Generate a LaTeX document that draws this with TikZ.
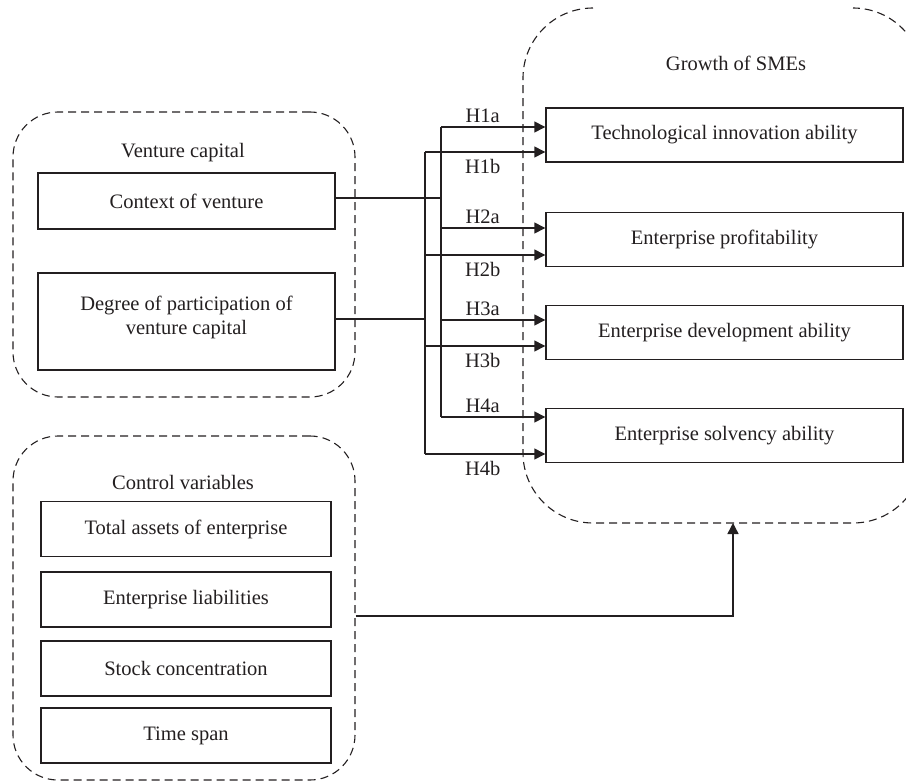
\documentclass[tikz,border=0pt]{standalone}
\usepackage{fontspec}
\setmainfont{Liberation Serif}
\usetikzlibrary{arrows.meta}
\definecolor{ink}{HTML}{231F20}
\begin{document}
\begin{tikzpicture}[x=1pt,y=-1pt,
  font=\fontsize{20.5}{24}\selectfont,
  every node/.style={text=ink},
  grp/.style={draw=ink,line width=1.1pt,dash pattern=on 8pt off 5pt},
  vbox/.style={draw=ink,line width=1.4pt,rectangle,minimum height=55pt,inner sep=2pt},
  conn/.style={draw=ink,line width=1.4pt},
  arr/.style={conn,-{Triangle[length=11pt,width=11pt]}},
  hl/.style={inner sep=0pt}]
\useasboundingbox (0,0) rectangle (906,784);
\clip (0,0) rectangle (906,784);

% groups
\node[grp,rounded corners=45pt,minimum width=342pt,minimum height=285pt] (vcg) at (184,254.5) {};
\node[grp,rounded corners=45pt,minimum width=342pt,minimum height=344pt] (cvg) at (184,608) {};
\node[minimum width=400pt,minimum height=515pt,inner sep=0pt] (grw) at (723,265.5) {};
\draw[grp,rounded corners=70pt] (593,8) -- (523,8) -- (523,523) -- (923,523) -- (923,8) -- (853,8);

% group titles
\node (vct) at (183,153) {Venture capital};
\node (cvt) at (183,482) {Control variables};
\node (grt) at (736,63) {Growth of SMEs};

% left boxes
\node[vbox,minimum width=297pt,minimum height=56pt] (ctx) at (186.5,201) {Context of venture};
\node[vbox,minimum width=297pt,minimum height=97pt,align=center,text depth=13pt] (deg) at (186.5,321.5) {Degree of participation of\\venture capital};

% control boxes
\node[vbox,minimum width=290pt] (tae) at (186,529) {Total assets of enterprise};
\node[vbox,minimum width=290pt] (eli) at (186,599.5) {Enterprise liabilities};
\node[vbox,minimum width=290pt] (sco) at (186,668.5) {Stock concentration};
\node[vbox,minimum width=290pt] (tsp) at (186,735.5) {Time span};

% right boxes
\node[vbox,minimum width=357pt,minimum height=54pt] (tia) at (724.5,135) {Technological innovation ability};
\node[vbox,minimum width=357pt,minimum height=54pt] (pro) at (724.5,239.5) {Enterprise profitability};
\node[vbox,minimum width=357pt,minimum height=54pt] (dev) at (724.5,332.5) {Enterprise development ability};
\node[vbox,minimum width=357pt,minimum height=54pt] (sol) at (724.5,435.5) {Enterprise solvency ability};

% trunk coordinates
\coordinate (a1) at (441,127);
\coordinate (a2) at (441,228);
\coordinate (a3) at (441,320);
\coordinate (a4) at (441,417);
\coordinate (b1) at (425,152);
\coordinate (b2) at (425,255);
\coordinate (b3) at (425,346);
\coordinate (b4) at (425,454);
\coordinate (cin) at (0,198);
\coordinate (din) at (0,319);

% inputs
\draw[conn] (ctx.east |- cin) -- (a1 |- cin);
\draw[conn] (deg.east |- din) -- (b1 |- din);
\draw[conn] (a1) -- (a4);
\draw[conn] (b1) -- (b4);

% arrows with labels
\draw[arr] (a1) -- node[hl,pos=0.4,above=3.5pt] {H1a} (a1 -| tia.west);
\draw[arr] (b1) -- node[hl,pos=0.48,below=7pt] {H1b} (b1 -| tia.west);
\draw[arr] (a2) -- node[hl,pos=0.4,above=3.5pt] {H2a} (a2 -| pro.west);
\draw[arr] (b2) -- node[hl,pos=0.48,below=7pt] {H2b} (b2 -| pro.west);
\draw[arr] (a3) -- node[hl,pos=0.4,above=3.5pt] {H3a} (a3 -| dev.west);
\draw[arr] (b3) -- node[hl,pos=0.48,below=7pt] {H3b} (b3 -| dev.west);
\draw[arr] (a4) -- node[hl,pos=0.4,above=3.5pt] {H4a} (a4 -| sol.west);
\draw[arr] (b4) -- node[hl,pos=0.48,below=7pt] {H4b} (b4 -| sol.west);

% control variables to growth
\coordinate (lvl) at (0,616);
\coordinate (gin) at (733,523);
\draw[arr] (cvg.east |- lvl) -| (gin);
\end{tikzpicture}
\end{document}
